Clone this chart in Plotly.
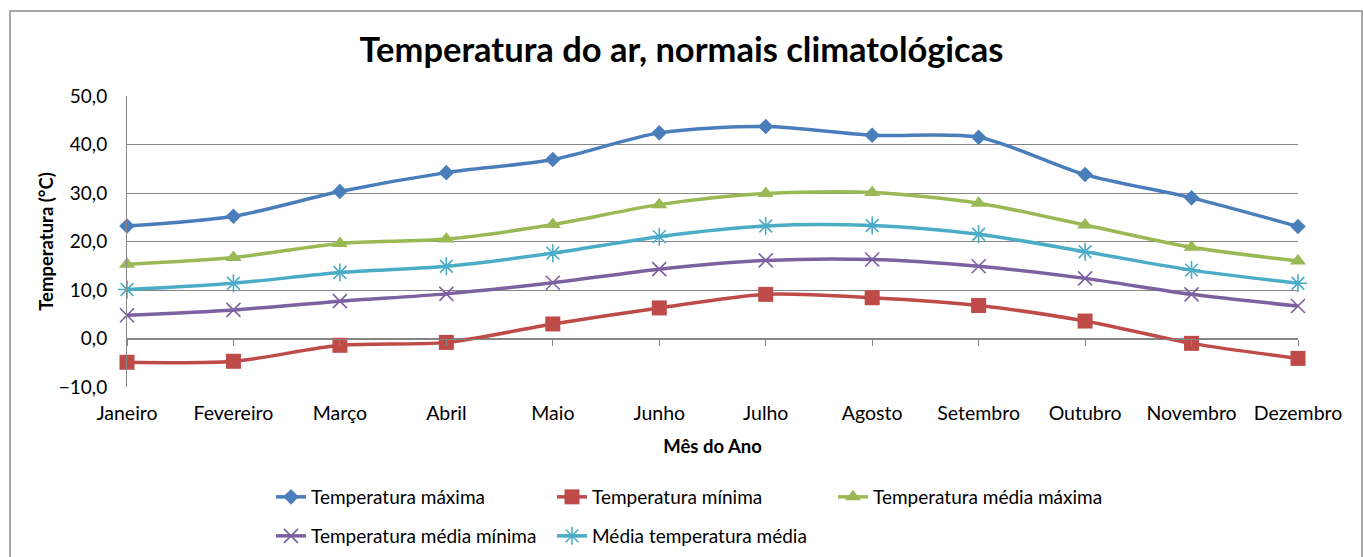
import plotly.graph_objects as go

meses = ["Janeiro", "Fevereiro", "Março", "Abril", "Maio", "Junho", "Julho",
         "Agosto", "Setembro", "Outubro", "Novembro", "Dezembro"]
temp_max = [23.2, 25.2, 30.3, 34.2, 36.9, 42.4, 43.7, 41.9, 41.5, 33.8, 29.0, 23.1]
temp_min = [-4.9, -4.7, -1.4, -0.8, 3.0, 6.3, 9.1, 8.4, 6.8, 3.6, -1.0, -4.1]
temp_med_max = [15.3, 16.7, 19.6, 20.5, 23.5, 27.6, 29.9, 30.1, 27.9, 23.4, 18.8, 16.0]
temp_med_min = [4.8, 5.9, 7.7, 9.2, 11.5, 14.3, 16.1, 16.3, 14.9, 12.4, 9.1, 6.7]
media_temp_med = [10.1, 11.4, 13.6, 14.9, 17.6, 21.0, 23.2, 23.3, 21.5, 17.9, 14.1, 11.4]

FONT = "Lato"
W, H = 1363, 557
L, R, T, B = 127, 1298, 96, 387  # plot area in px

def px_x(p):
    return (p - L) / (R - L)

def px_y(p):
    return (B - p) / (B - T)

series = [
    ("Temperatura máxima", temp_max, "#4A7EBB", "diamond", 12, "legend"),
    ("Temperatura mínima", temp_min, "#BE4B48", "square", 15, "legend"),
    ("Temperatura média máxima", temp_med_max, "#98B954", "triangle-up", 14, "legend"),
    ("Temperatura média mínima", temp_med_min, "#7D60A0", "x-thin", 14, "legend2"),
    ("Média temperatura média", media_temp_med, "#4AACC5", "asterisk", 15, "legend2"),
]

xs = list(range(len(meses)))
fig = go.Figure()
for name, vals, color, sym, size, leg in series:
    thin = sym in ("x-thin", "asterisk")
    fig.add_trace(go.Scatter(
        x=xs, y=vals, name=name, mode="lines+markers",
        line=dict(color=color, width=3.5, shape="spline", smoothing=0.8),
        marker=dict(symbol=sym, size=size, color=color,
                    line=dict(color=color, width=1.6 if thin else 0)),
        cliponaxis=False, legend=leg,
    ))

# invisible helper trace so the zero-line category axis (tick marks) is drawn
fig.add_trace(go.Scatter(x=xs, y=[0] * len(xs), xaxis="x2", mode="markers",
                         marker=dict(opacity=0), showlegend=False, hoverinfo="skip"))

LEGFONT = 19
fig.update_layout(
    width=W, height=H,
    margin=dict(l=L, r=W - R, t=T, b=H - B, autoexpand=False),
    paper_bgcolor="white", plot_bgcolor="white",
    separators=",.",
    font=dict(family=FONT, size=19, color="black"),
    title=dict(text="<b>Temperatura do ar, normais climatológicas</b>",
               x=0.5, xanchor="center", y=1 - 50 / H, yanchor="middle",
               font=dict(family=FONT, size=34.5, color="black")),
    xaxis=dict(range=[0, 11], tickvals=xs, ticktext=meses, showgrid=False,
               zeroline=False, showline=False, ticks="outside", ticklen=9,
               tickcolor="rgba(0,0,0,0)", tickfont=dict(size=19.5), automargin=False,
               title=dict(text="<b>Mês do Ano</b>", font=dict(size=18.5), standoff=16)),
    xaxis2=dict(range=[0, 11], overlaying="x", anchor="free", position=1 / 6,
                tickvals=xs, showticklabels=False, ticks="outside", ticklen=6,
                tickcolor="#868686", tickwidth=1, showline=True, linecolor="#868686",
                showgrid=False, zeroline=False, side="bottom", automargin=False),
    yaxis=dict(range=[-10, 50], dtick=10, tickformat=".1f", showgrid=True,
               gridcolor="#868686", gridwidth=1, zeroline=False,
               showline=True, linecolor="#868686", ticks="outside",
               ticklen=15, tickcolor="rgba(0,0,0,0)", tickfont=dict(size=19),
               automargin=False,
               title=dict(text="<b>Temperatura (°C)</b>", font=dict(size=18.5), standoff=0)),
    legend=dict(orientation="h", x=px_x(271), xanchor="left", y=px_y(497), yanchor="middle",
                entrywidth=236, entrywidthmode="pixels", font=dict(size=LEGFONT),
                bgcolor="rgba(0,0,0,0)", itemwidth=30, tracegroupgap=0),
    legend2=dict(orientation="h", x=px_x(271), xanchor="left", y=px_y(536), yanchor="middle",
                 entrywidth=236, entrywidthmode="pixels", font=dict(size=LEGFONT),
                 bgcolor="rgba(0,0,0,0)", itemwidth=30, tracegroupgap=0),
    shapes=[dict(type="rect", xref="paper", yref="paper",
                 x0=px_x(10), x1=px_x(1362), y0=px_y(600), y1=px_y(11),
                 line=dict(color="#8C8C8C", width=1.5), layer="below")],
)

fig.write_html("out.html", config={"displayModeBar": False},
               post_script="document.body.style.margin='0px';")
